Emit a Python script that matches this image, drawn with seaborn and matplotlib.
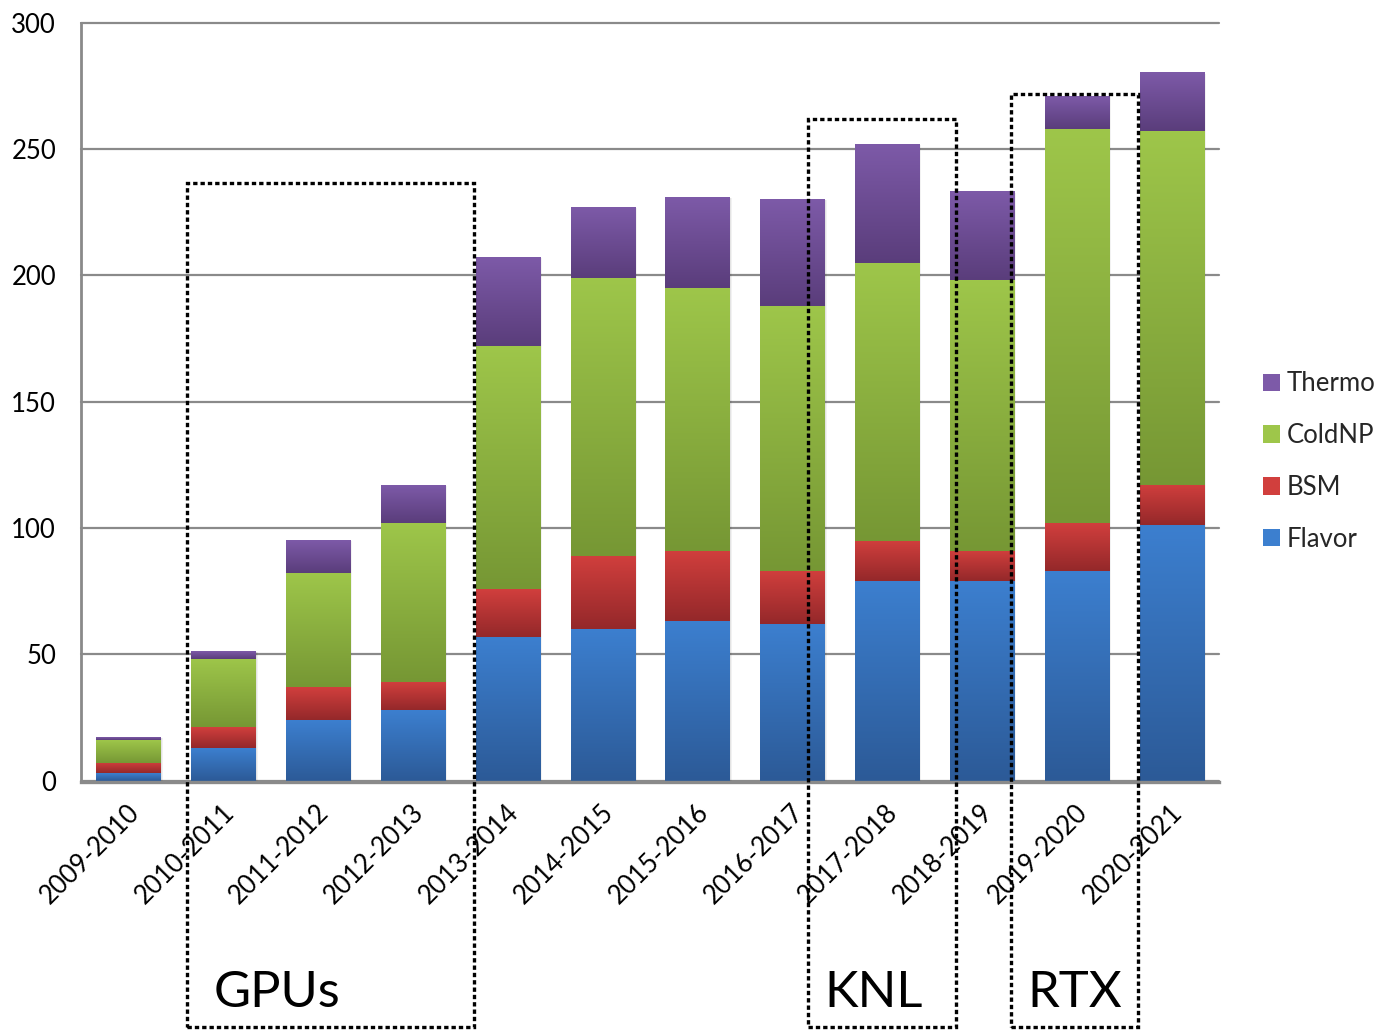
import numpy as np
import pandas as pd
import matplotlib
matplotlib.use("Agg")
import matplotlib.pyplot as plt
import seaborn as sns
from matplotlib.patches import Patch, Rectangle
from matplotlib.colors import to_rgb
from matplotlib.transforms import ScaledTranslation

# Seasons and per-group counts
seasons = ["2009-2010", "2010-2011", "2011-2012", "2012-2013", "2013-2014",
           "2014-2015", "2015-2016", "2016-2017", "2017-2018", "2018-2019",
           "2019-2020", "2020-2021"]
flavor = [3, 13, 24, 28, 57, 60, 63, 62, 79, 79, 83, 101]
bsm = [4, 8, 13, 11, 19, 29, 28, 21, 16, 12, 19, 16]
coldnp = [9, 27, 45, 63, 96, 110, 104, 105, 110, 107, 156, 140]
thermo = [1, 3, 13, 15, 35, 28, 36, 42, 47, 35, 13, 23]

groups = ["Flavor", "BSM", "ColdNP", "Thermo"]

# Hardware eras
era_labels = ["GPUs", "KNL", "RTX"]

# --- styling -------------------------------------------------------------
sns.set_style("white")
plt.rcParams["font.family"] = ["Lato", "DejaVu Sans"]

grad_colors = {
    "Flavor": ("#3c7fcf", "#2c5a97"),
    "BSM": ("#d13f3d", "#94282a"),
    "ColdNP": ("#9ec64a", "#769734"),
    "Thermo": ("#7d5aa8", "#5a3d7b"),
}
grid_col = "#8a8a8a"
bar_w = 0.675
label_size = 18.5

df = pd.DataFrame({"season": seasons, "Flavor": flavor, "BSM": bsm,
                   "ColdNP": coldnp, "Thermo": thermo})
cum = df[groups].cumsum(axis=1)

fig = plt.figure(figsize=(13.83, 10.30), dpi=100)
ax = fig.add_axes([0.0586, 0.2422, 0.8228, 0.7356])

# stacked bars: draw cumulative totals from the top group down
patches_by_group = {}
for name in reversed(groups):
    n0 = len(ax.patches)
    top, bot = grad_colors[name]
    sns.barplot(x=df["season"], y=cum[name], color=top, saturation=1,
                width=bar_w, errorbar=None, ax=ax, zorder=2)
    patches_by_group[name] = ax.patches[n0:]

# vertical gradient in each visible segment
n_steps = 256
for k, name in enumerate(groups):
    top, bot = (np.array(to_rgb(c)) for c in grad_colors[name])
    t = np.linspace(0, 1, n_steps)[:, None]
    grad = (top[None, :] * (1 - t) + bot[None, :] * t)[:, None, :]
    lower = cum[groups[k - 1]].values if k > 0 else np.zeros(len(seasons))
    upper = cum[name].values
    for i, p in enumerate(patches_by_group[name]):
        x0, w = p.get_x(), p.get_width()
        ax.imshow(grad, extent=(x0, x0 + w, lower[i], upper[i]),
                  aspect="auto", origin="upper", interpolation="bilinear",
                  zorder=2.5)
        p.set_facecolor("none")
        p.set_edgecolor("none")

# soft shadow behind each full bar
for i, p in enumerate(patches_by_group["Thermo"]):
    x0, w = p.get_x(), p.get_width()
    total = cum["Thermo"].values[i]
    for off, a in [(0.035, 0.05), (0.02, 0.06)]:
        ax.add_patch(Rectangle((x0 + off * 0.4, -1.2), w + off * 0.3, total + 1.0,
                               facecolor="black", alpha=a, edgecolor="none",
                               zorder=1.8))

ax.set_xlim(-0.5, 11.5)
ax.set_ylim(0, 300)
ax.set_yticks(range(0, 301, 50))
ax.set_xlabel("")
ax.set_ylabel("")

ax.set_axisbelow(True)
ax.yaxis.grid(True, color=grid_col, lw=1.6)
ax.xaxis.grid(False)
for gl in ax.get_ygridlines():
    gl.set_clip_on(False)

for s in ["top", "right"]:
    ax.spines[s].set_visible(False)
ax.spines["left"].set_color(grid_col)
ax.spines["left"].set_linewidth(2.0)
ax.spines["bottom"].set_color(grid_col)
ax.spines["bottom"].set_linewidth(2.4)
ax.spines["bottom"].set_position(("outward", 1.2))
ax.spines["bottom"].set_zorder(3)

ax.tick_params(axis="both", length=0, labelsize=label_size, colors="black")
ax.tick_params(axis="y", pad=18)

# rotated season labels under each bar
ax.set_xticklabels([])
shift = ScaledTranslation(5 / 72, -20 / 72, fig.dpi_scale_trans)
for i, s in enumerate(seasons):
    ax.text(i, 0, s, transform=ax.transData + shift, rotation=45,
            rotation_mode="anchor", ha="right", va="center",
            fontsize=label_size, color="black", clip_on=False)

# legend (top group first)
handles = [Patch(facecolor=grad_colors[g][0], edgecolor="none") for g in reversed(groups)]
fig.legend(handles, list(reversed(groups)), loc="center left",
           bbox_to_anchor=(0.913, 0.552), frameon=False, fontsize=label_size,
           handlelength=0.68, handleheight=0.68, handletextpad=0.25,
           labelspacing=1.04, borderpad=0, borderaxespad=0)

# dashed boxes marking hardware eras
eras = [
    (0.618, 3.644, 236.6, 1.567),
    (7.170, 8.724, 261.9, 7.86),
    (9.307, 10.646, 271.9, 9.98),
]
box_bottom = -97.6
for label, (xl, xr, ytop, xc) in zip(era_labels, eras):
    ax.add_patch(Rectangle((xl, box_bottom), xr - xl, ytop - box_bottom,
                           fill=False, edgecolor="black", lw=2.4,
                           linestyle=(0, (1.3, 0.9)), clip_on=False, zorder=5))
    ax.text(xc, -89.7, label, ha="center", va="baseline", fontsize=36.5,
            color="black", clip_on=False, zorder=6)

fig.savefig("out.png", dpi=100, facecolor="white")
